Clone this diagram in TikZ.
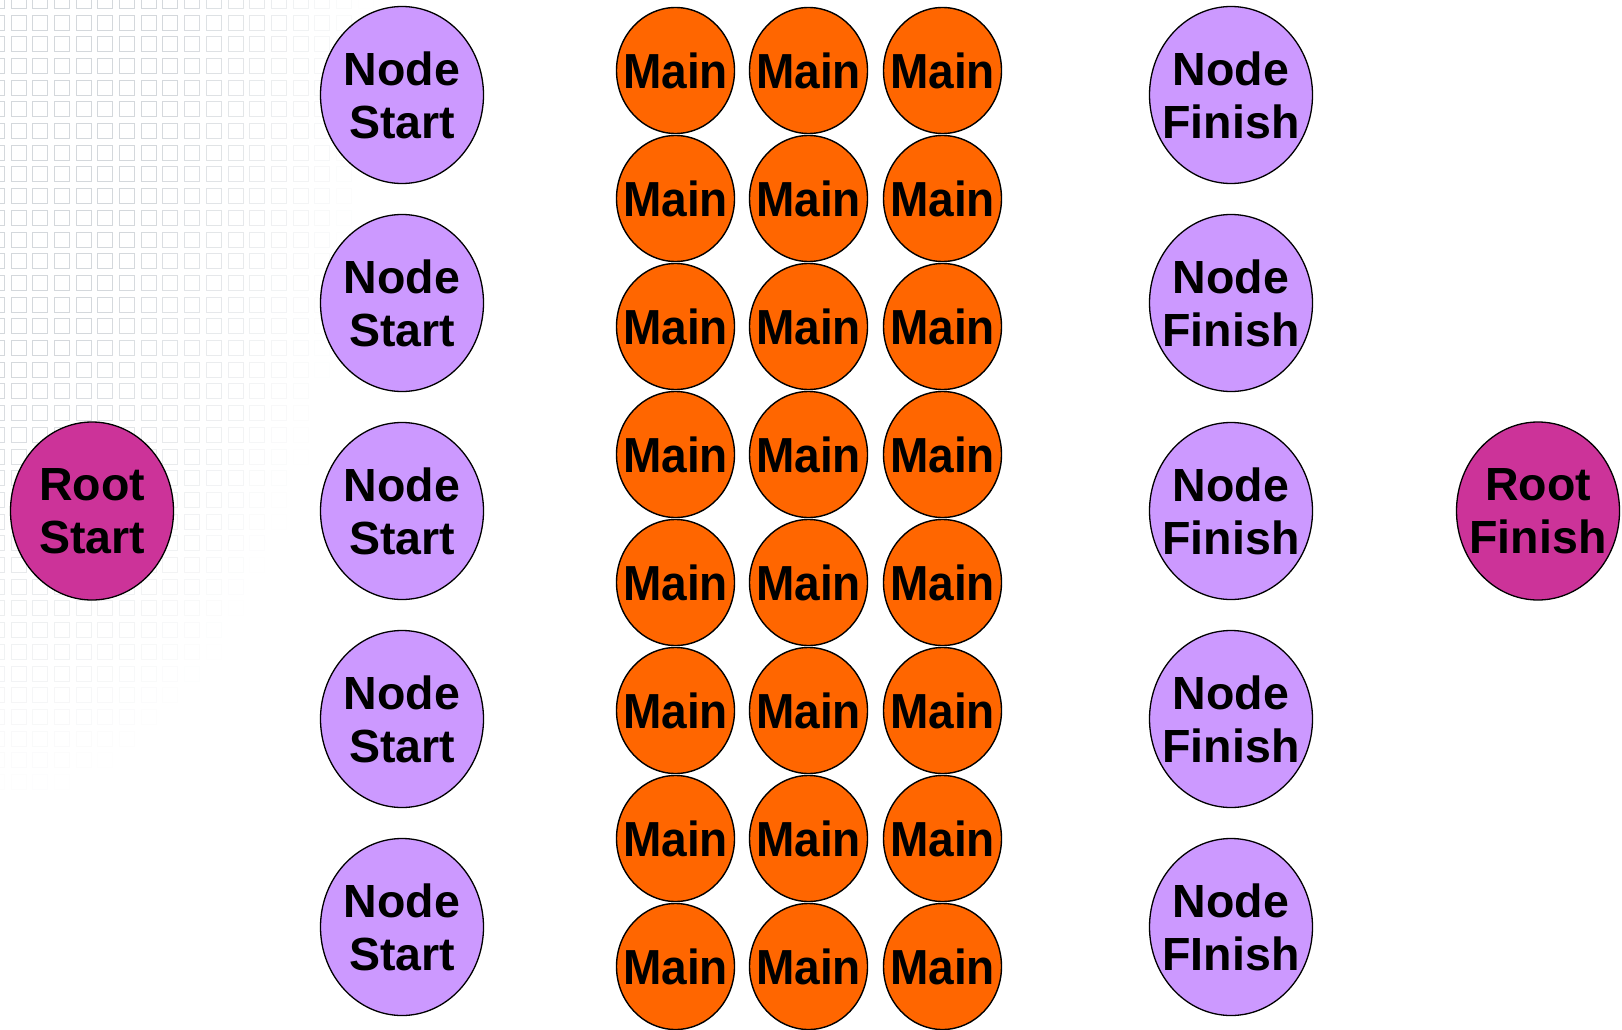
\documentclass[tikz,border=0pt]{standalone}
\usepackage{fontspec}
\setmainfont{Liberation Sans}
\usetikzlibrary{shapes.geometric}
\definecolor{lilac}{HTML}{CC99FF}
\definecolor{orng}{HTML}{FF6600}
\definecolor{magen}{HTML}{CC3399}
\definecolor{gridc}{HTML}{D4D8DC}
\tikzset{
  big/.style={ellipse, draw=black, line width=1.3pt, inner sep=0pt, minimum width=163pt, minimum height=177pt},
  nodestart/.style={big, fill=lilac},
  nodefinish/.style={big, fill=lilac},
  rootnode/.style={big, fill=magen, minimum width=163pt, minimum height=178pt},
  mainnode/.style={ellipse, draw=black, line width=1.4pt, inner sep=0pt, fill=orng, minimum width=118pt, minimum height=126pt},
  lbl/.style={align=center, inner sep=0pt, font=\fontsize{46.5}{53}\selectfont\bfseries},
  mlbl/.style={inner sep=0pt, font=\fontsize{46}{53}\selectfont\bfseries}
}
\begin{document}
\begin{tikzpicture}[x=1pt,y=-1pt]
\useasboundingbox (0,0) rectangle (1622,1030);
\fill[white] (0,0) rectangle (1622,1030);
% faint background grid
\begin{scope}
\clip (0,0) rectangle (1622,1030);
\foreach \i in {-1,...,17}{
  \foreach \j in {-1,...,36}{
    \pgfmathsetmacro{\gx}{11+21.7*\i}
    \pgfmathsetmacro{\gy}{15+21.7*\j}
    \pgfmathsetmacro{\dd}{sqrt((max(\gx,0)/360)^2+(max(\gy,0)/790)^2)}
    \pgfmathsetmacro{\op}{min(1,max(0,1.8*(1-\dd)))}
    \draw[gridc, line width=0.9pt, draw opacity=\op] (\gx,\gy) rectangle ++(15,15);
  }
}
\end{scope}
% root nodes
\node[rootnode, label={[lbl]center:Root\\Start}] (rs) at (92,511) {};
\node[rootnode, label={[lbl]center:Root\\Finish}] (rf) at (1538,511) {};
% node start / finish columns
\foreach \k/\yy in {1/95, 2/303, 3/511, 4/719, 5/927}{
  \node[nodestart, label={[lbl]center:Node\\Start}] (ns\k) at (402,\yy) {};
}
\foreach \k/\yy in {1/95, 2/303, 3/511, 4/719}{
  \node[nodefinish, label={[lbl]center:Node\\Finish}] (nf\k) at (1231,\yy) {};
}
\node[nodefinish, label={[lbl]center:Node\\FInish}] (nf5) at (1231,927) {};
% main grid
\foreach \c/\xx in {1/675.5, 2/808.5, 3/942.5}{
  \foreach \r in {1,...,8}{
    \pgfmathsetmacro{\yy}{70.5+128*(\r-1)}
    \node[mainnode, label={[mlbl]center:\scalebox{1}[1.07]{Main}}] (m\c\r) at (\xx,\yy) {};
  }
}
\end{tikzpicture}
\end{document}
